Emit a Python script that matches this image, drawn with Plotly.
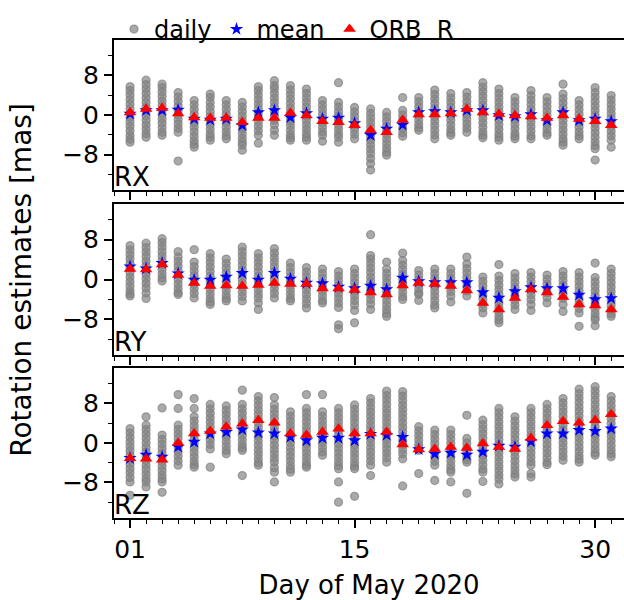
import plotly.graph_objects as go

DAYS = list(range(1, 32))
TICK_DAYS = [1, 15, 30]
TICK_DAY_TEXT = ["01", "15", "30"]
Y_TICKS = [-8, 0, 8]
Y_TICK_TEXT = ["\u22128", "0", "8"]
PANELS = ["RX", "RY", "RZ"]
LEGEND_NAMES = ["daily", "mean", "ORB\u00a0\u00a0R"]

RX_DAILY = [
    [5.7, 4.9, 4.0, 3.1, 2.2, 1.3, 0.4, -0.5, -1.4, -2.3, -3.2, -4.1, -4.9, -5.5],
    [7.0, 6.1, 5.2, 4.3, 3.4, 2.5, 1.6, 0.7, -0.2, -1.1, -2.0, -2.9, -3.8, -4.5],
    [6.2, 5.5, 4.6, 3.7, 2.8, 1.9, 1.0, 0.1, -0.8, -1.7, -2.6, -3.5, -4.1],
    [4.5, 3.6, 2.7, 1.8, 0.9, 0.0, -0.9, -1.8, -2.7, -3.5, -9.3],
    [2.9, 2.0, 1.1, 0.2, -0.7, -1.6, -2.5, -3.4, -4.3, -5.2, -5.9, -6.5],
    [4.2, 3.5, 2.5, 1.6, 0.7, -0.2, -1.1, -2.0, -2.9, -3.8, -4.5, -5.1],
    [2.9, 2.0, 1.1, 0.2, -0.7, -1.6, -2.5, -3.4, -4.2, -4.8],
    [2.5, 1.6, 0.7, -0.2, -1.1, -2.0, -2.9, -3.8, -4.7, -5.5, -6.1, -7.1],
    [5.7, 4.9, 4.0, 3.1, 2.2, 1.3, 0.4, -0.5, -1.4, -2.3, -3.2, -4.1, -5.7],
    [6.9, 5.9, 5.2, 4.3, 3.4, 2.5, 1.6, 0.7, -0.2, -1.1, -2.0, -3.1, -4.1],
    [5.9, 5.0, 4.1, 3.2, 2.3, 1.4, 0.5, -0.4, -1.3, -2.2, -3.1, -4.0, -4.6, -5.1],
    [5.2, 4.3, 3.4, 2.5, 1.6, 0.7, -0.2, -1.1, -2.0, -2.9, -3.8, -4.5, -5.1],
    [2.9, 2.0, 1.1, 0.2, -0.7, -1.6, -2.5, -3.4, -4.1, -5.3],
    [6.5, 2.5, 1.6, 0.7, -0.2, -1.1, -2.0, -2.9, -3.8, -4.5, -5.5],
    [1.5, 0.6, -0.3, -1.2, -2.1, -3.0, -3.9, -4.8],
    [1.2, 0.3, -0.6, -1.5, -2.4, -3.3, -4.2, -5.1, -6.0, -6.9, -7.8, -8.8, -9.8, -11.1],
    [0.5, -0.4, -1.3, -2.2, -3.1, -4.0, -4.9, -5.8, -6.7, -7.5, -8.1],
    [3.5, 0.9, 0.0, -0.9, -1.8, -2.7, -3.6, -4.3],
    [3.5, 2.6, 1.7, 0.8, -0.1, -1.0, -1.9, -2.6, -3.1],
    [5.0, 4.1, 3.2, 2.3, 1.4, 0.5, -0.4, -1.3, -2.2, -3.1, -4.0, -4.8],
    [4.3, 3.4, 2.5, 1.6, 0.7, -0.2, -1.1, -2.0, -2.9, -3.6, -4.1],
    [4.5, 3.6, 2.7, 1.8, 0.9, 0.0, -0.9, -1.8, -2.7, -3.5],
    [6.5, 5.6, 4.7, 3.8, 2.9, 2.0, 1.1, 0.2, -0.7, -1.6, -2.5, -3.4, -4.1, -4.6],
    [5.2, 4.3, 3.4, 2.5, 1.6, 0.7, -0.2, -1.1, -2.0, -2.9, -3.8, -4.5, -5.1],
    [3.5, 2.6, 1.7, 0.8, -0.1, -1.0, -1.9, -2.8, -3.7, -4.3, -4.8],
    [4.9, 3.9, 3.0, 2.1, 1.2, 0.3, -0.6, -1.5, -2.4, -3.3, -4.2, -4.8],
    [3.5, 2.6, 1.7, 0.8, -0.1, -1.0, -1.9, -2.8, -3.6, -4.1],
    [6.2, 4.2, 3.3, 2.4, 1.5, 0.6, -0.3, -1.2, -2.1, -3.0, -3.9, -4.8, -5.5, -6.1],
    [2.9, 2.0, 1.1, 0.2, -0.7, -1.6, -2.5, -3.4, -4.2, -4.8],
    [5.5, 4.5, 3.6, 2.7, 1.8, 0.9, 0.0, -0.9, -1.8, -2.7, -3.6, -4.5, -5.4, -6.2, -6.8, -9.1],
    [3.9, 3.0, 2.1, 1.2, 0.3, -0.6, -1.5, -2.4, -3.3, -4.2, -5.1, -6.5],
]
RY_DAILY = [
    [6.8, 5.9, 5.0, 4.1, 3.2, 2.3, 1.4, 0.5, -0.4, -1.3, -2.2, -2.9, -3.3],
    [7.3, 6.4, 5.5, 4.6, 3.7, 2.8, 1.9, 1.0, 0.1, -0.8, -1.7, -2.7, -3.8],
    [8.2, 7.4, 6.5, 5.6, 4.7, 3.8, 2.9, 2.0, 1.1, 0.3, -0.3],
    [5.6, 4.5, 3.6, 2.7, 1.8, 0.9, 0.0, -0.9, -1.8, -2.6, -3.0],
    [6.0, 3.5, 2.6, 1.7, 0.8, -0.1, -1.0, -1.9, -2.8, -3.7],
    [5.2, 4.3, 3.4, 2.5, 1.6, 0.7, -0.2, -1.1, -2.0, -2.9, -3.8, -4.5, -5.0],
    [4.1, 3.2, 2.3, 1.4, 0.5, -0.4, -1.3, -2.2, -3.1, -3.8, -4.3],
    [6.5, 5.6, 4.7, 3.8, 2.9, 2.0, 1.1, 0.2, -0.7, -1.6, -2.5, -3.4, -4.3],
    [5.2, 4.3, 3.4, 2.5, 1.6, 0.7, -0.2, -1.1, -2.0, -2.9, -3.7, -4.7, -6.0],
    [6.2, 5.3, 4.4, 3.5, 2.6, 1.7, 0.8, -0.1, -1.0, -1.9, -2.8, -3.7],
    [3.3, 2.4, 1.5, 0.6, -0.3, -1.2, -2.1, -3.0, -3.8, -4.3],
    [2.4, 1.5, 0.6, -0.3, -1.2, -2.1, -3.0, -3.9, -4.8, -5.7],
    [2.1, 1.2, 0.3, -0.6, -1.5, -2.4, -3.3, -4.2, -4.7],
    [1.6, 0.7, -0.2, -1.1, -2.0, -2.9, -3.8, -4.7, -5.6, -9.1, -9.9],
    [2.1, 1.2, 0.3, -0.6, -1.5, -2.4, -3.3, -4.2, -5.1, -6.2, -8.7],
    [9.0, 4.8, 4.1, 3.2, 2.3, 1.4, 0.5, -0.4, -1.3, -2.2, -3.1, -4.0, -4.9, -6.0],
    [3.5, 2.1, 1.2, 0.3, -0.6, -1.5, -2.4, -3.3, -4.2, -5.1, -6.0, -6.8, -7.4],
    [5.3, 3.8, 2.9, 2.0, 1.1, 0.2, -0.7, -1.6, -2.5, -3.4, -4.0],
    [1.8, 0.9, 0.0, -0.9, -1.8, -2.6, -3.0, -4.2],
    [2.1, 1.2, 0.3, -0.6, -1.5, -2.4, -3.3, -4.2, -5.1, -5.7],
    [2.1, 1.2, 0.3, -0.6, -1.5, -2.4, -3.3, -4.5],
    [4.5, 3.1, 2.2, 1.3, 0.4, -0.5, -1.4, -2.3, -3.3],
    [0.5, -0.4, -1.3, -2.2, -3.1, -4.0, -4.9, -5.7, -6.7],
    [3.0, 0.7, -0.2, -1.1, -2.0, -2.9, -3.8, -4.7, -5.6, -6.5, -7.4, -8.1, -8.7],
    [1.2, 0.3, -0.6, -1.5, -2.4, -3.3, -4.2, -5.1, -6.0],
    [1.4, 0.5, -0.4, -1.3, -2.2, -3.1, -4.0, -5.0, -6.2],
    [0.9, 0.0, -0.9, -1.8, -2.7, -3.6, -4.7],
    [1.6, 0.7, -0.2, -1.1, -2.0, -2.9, -3.8, -5.0, -6.4],
    [1.4, 0.5, -0.4, -1.3, -2.2, -3.1, -4.0, -4.9, -5.8, -6.7, -9.4],
    [3.3, 0.4, -0.5, -1.4, -2.3, -3.2, -4.1, -5.0, -5.9, -6.8, -7.6, -8.1, -9.3],
    [2.1, 1.2, 0.3, -0.6, -1.5, -2.4, -3.3, -4.2, -5.1, -6.0, -6.9, -7.4],
]
RZ_DAILY = [
    [2.9, 2.0, 1.1, 0.2, -0.7, -1.6, -2.5, -3.4, -4.3, -5.2, -6.1, -7.0, -7.9, -10.6],
    [5.3, 3.6, 2.7, 1.8, 0.9, 0.0, -0.9, -1.8, -2.7, -3.6, -4.5, -5.4, -6.3, -7.2, -7.9, -8.9],
    [7.1, 1.6, 0.7, -0.2, -1.1, -2.0, -2.9, -3.8, -4.7, -5.6, -6.5, -7.3, -7.9, -10.0],
    [9.8, 7.0, 3.6, 2.7, 1.8, 0.9, 0.0, -0.9, -1.8, -2.7, -3.6, -4.5],
    [9.0, 7.0, 5.3, 4.4, 3.5, 2.6, 1.7, 0.8, -0.1, -1.0, -1.9, -2.8, -3.7, -4.4, -4.9],
    [7.8, 6.9, 6.0, 5.1, 4.2, 3.3, 2.4, 1.5, 0.6, -0.3, -1.2, -4.9],
    [7.5, 6.6, 5.7, 4.8, 3.9, 3.0, 2.1, 1.2, 0.3, -0.6, -1.5, -2.2],
    [10.7, 7.8, 6.9, 6.0, 5.1, 4.2, 3.3, 2.4, 1.5, 0.6, -0.3, -1.0, -1.5, -6.6],
    [9.4, 8.5, 7.6, 6.7, 5.8, 4.9, 4.0, 3.1, 2.2, 1.3, 0.4, -0.5, -1.4, -2.3, -3.2, -4.0, -4.5],
    [9.2, 7.7, 6.8, 5.9, 5.0, 4.1, 3.2, 2.3, 1.4, 0.5, -0.4, -1.3, -2.2, -3.1, -3.9, -5.0, -5.9, -7.9],
    [6.3, 5.4, 4.5, 3.6, 2.7, 1.8, 0.9, 0.0, -0.9, -1.8, -2.7, -3.6, -4.5, -5.3, -5.9],
    [9.8, 7.0, 6.1, 5.2, 4.3, 3.4, 2.5, 1.6, 0.7, -0.2, -1.1, -2.0, -2.9, -3.8, -4.5, -4.9],
    [9.8, 6.3, 5.4, 4.5, 3.6, 2.7, 1.8, 0.9, 0.0, -0.9, -1.8, -2.5],
    [7.0, 6.1, 5.2, 4.3, 3.4, 2.5, 1.6, 0.7, -0.2, -1.1, -2.0, -2.9, -3.8, -4.6, -5.2, -7.9, -12.0],
    [7.7, 6.8, 5.9, 5.0, 4.1, 3.2, 2.3, 1.4, 0.5, -0.4, -1.3, -2.2, -3.1, -4.0, -4.7, -5.2, -10.8],
    [9.0, 8.1, 7.2, 6.3, 5.4, 4.5, 3.6, 2.7, 1.8, 0.9, 0.0, -0.9, -1.8, -2.7, -3.6, -4.5, -6.6],
    [10.5, 9.6, 8.7, 7.8, 6.9, 6.0, 5.1, 4.2, 3.3, 2.4, 1.5, 0.6, -0.3, -1.2, -2.1, -3.0, -3.9],
    [10.4, 9.5, 8.6, 7.7, 6.8, 5.9, 5.0, 4.1, 3.2, 2.3, 1.4, 0.5, -0.4, -1.3, -2.2, -3.2, -8.7],
    [3.3, 2.4, 1.5, 0.6, -0.3, -1.0, -1.5, -6.2],
    [2.6, 1.7, 0.8, -0.1, -1.0, -1.9, -2.8, -3.7, -4.5, -7.6],
    [2.6, 1.7, 0.8, -0.1, -1.0, -1.9, -2.8, -3.7, -4.6, -5.4, -5.9, -7.9],
    [5.6, 0.9, 0.0, -0.9, -1.8, -2.7, -3.4, -3.9, -10.2],
    [4.6, 3.7, 2.8, 1.9, 1.0, 0.1, -0.8, -1.7, -2.6, -3.5, -4.4, -5.3, -5.9, -7.8],
    [7.0, 6.1, 5.2, 4.3, 3.4, 2.5, 1.6, 0.7, -0.2, -1.1, -2.0, -2.9, -3.8, -4.7, -5.6, -6.5, -7.3, -8.3],
    [5.3, 4.4, 3.5, 2.6, 1.7, 0.8, -0.1, -1.0, -1.9, -2.8, -3.7, -4.6, -5.5, -6.3, -6.9],
    [7.0, 6.1, 5.2, 4.3, 3.4, 2.5, 1.6, 0.7, -0.2, -1.1, -2.0, -2.9, -3.8, -4.5, -6.2, -6.9],
    [7.8, 6.9, 6.0, 5.1, 4.2, 3.3, 2.4, 1.5, 0.6, -0.3, -1.2, -2.1, -3.0, -3.9, -4.4],
    [9.0, 8.1, 7.2, 6.3, 5.4, 4.5, 3.6, 2.7, 1.8, 0.9, 0.0, -0.9, -1.8, -2.7, -3.5],
    [10.9, 10.0, 9.1, 8.2, 7.3, 6.4, 5.5, 4.6, 3.7, 2.8, 1.9, 1.0, 0.1, -0.8, -1.7, -2.6, -3.3, -3.9],
    [11.4, 10.5, 9.6, 8.7, 7.8, 6.9, 6.0, 5.1, 4.2, 3.3, 2.4, 1.5, 0.6, -0.3, -1.2, -2.0, -2.5],
    [9.4, 8.5, 7.6, 6.7, 5.8, 4.9, 4.0, 3.1, 2.2, 1.3, 0.4, -0.5, -1.4, -2.2, -2.8],
]

RX_MEAN = [0.2, 0.9, 0.9, 1.0, -0.8, -1.0, -0.8, -2.1, 0.5, 0.9, -0.5, 0.3, -0.8, -0.6, -1.7,
           -4.1, -2.8, -2.0, 0.5, 0.7, 0.5, 0.9, 0.9, -0.1, -0.3, 0.1, -1.1, 0.5, -1.1, -0.8, -1.3]
RX_ORB = [0.5, 1.2, 1.4, 0.3, -0.5, -0.6, -0.6, -1.5, -0.6, -0.6, 0.4, -0.1, -1.3, -1.5, -2.1,
          -3.1, -3.5, -1.0, 0.1, 0.1, 0.3, 1.2, 0.5, 0.2, -0.1, -0.3, -0.6, -0.1, -0.8, -1.3, -2.1]
RY_MEAN = [2.6, 2.2, 3.3, 1.2, -0.1, -0.1, 0.5, 1.3, -0.1, 1.3, 0.1, -0.7, -0.8, -1.5, -1.8,
           -1.3, -2.0, 0.3, -0.4, -0.6, -0.6, -0.6, -2.6, -3.7, -2.4, -1.6, -1.8, -1.8, -3.1, -4.0, -3.8]
RY_ORB = [2.1, 2.0, 3.0, 0.9, -0.7, -1.3, -1.2, -1.3, -1.1, -0.7, -0.9, -0.9, -1.8, -1.8, -2.1,
          -2.6, -3.0, -1.2, -0.7, -0.9, -1.3, -2.2, -4.7, -6.0, -3.7, -2.0, -2.6, -3.5, -5.0, -5.2, -6.0]
RZ_MEAN = [-3.1, -2.4, -2.8, -0.8, 0.2, 1.9, 2.2, 2.7, 2.1, 1.9, 1.2, 0.5, 1.0, 1.0, 0.5,
           1.8, 1.6, 1.2, -1.3, -2.2, -2.0, -2.4, -1.8, -0.6, -0.8, 0.3, 1.9, 1.9, 2.6, 2.4, 2.9]
RZ_ORB = [-3.1, -3.2, -3.4, 0.0, 1.9, 2.4, 3.3, 3.9, 4.6, 4.1, 1.9, 1.6, 2.2, 2.9, 1.9,
          1.9, 2.2, -0.3, -1.3, -1.2, -0.8, -1.0, -0.1, -0.8, -1.2, 1.0, 3.6, 4.4, 4.1, 4.6, 5.8]

DAILY = [RX_DAILY, RY_DAILY, RZ_DAILY]
MEANS = [RX_MEAN, RY_MEAN, RZ_MEAN]
ORBS = [RX_ORB, RY_ORB, RZ_ORB]

FONT = "DejaVu Sans"
GREY_FILL = "rgba(128,128,128,0.68)"
GREY_LINE = "rgba(128,128,128,0.68)"

fig = go.Figure()
DOMAINS = [[0.6855, 1.0], [0.3406, 0.6562], [0.0, 0.3129]]

for i in range(3):
    sfx = "" if i == 0 else str(i + 1)
    xs, ys = [], []
    for d, vals in zip(DAYS, DAILY[i]):
        xs += [d] * len(vals)
        ys += vals
    fig.add_trace(go.Scatter(
        x=xs, y=ys, mode="markers", name=LEGEND_NAMES[0], legendgroup="daily",
        showlegend=(i == 0), xaxis="x" + sfx, yaxis="y" + sfx,
        marker=dict(symbol="circle", size=8, color=GREY_FILL,
                    line=dict(color=GREY_LINE, width=1.3)),
    ))
    fig.add_trace(go.Scatter(
        x=DAYS, y=MEANS[i], mode="markers", name=LEGEND_NAMES[1], legendgroup="mean",
        showlegend=(i == 0), xaxis="x" + sfx, yaxis="y" + sfx,
        marker=dict(symbol="star", size=10, color="#0000ff", line=dict(width=0)),
    ))
    fig.add_trace(go.Scatter(
        x=DAYS, y=ORBS[i], mode="markers", name=LEGEND_NAMES[2], legendgroup="orb",
        showlegend=(i == 0), xaxis="x" + sfx, yaxis="y" + sfx,
        marker=dict(symbol="triangle-up", size=11, color="#ff0000", line=dict(width=0)),
    ))

layout = dict(
    width=624, height=600,
    margin=dict(l=114, r=0, t=40, b=82),
    paper_bgcolor="white", plot_bgcolor="white",
    font=dict(family=FONT, color="black", size=24),
    showlegend=True,
    legend=dict(orientation="h", x=0.0, xanchor="left", y=0.975, yanchor="bottom",
                font=dict(size=24, family=FONT), bgcolor="rgba(0,0,0,0)",
                borderwidth=0, itemwidth=30, tracegroupgap=0),
)

for i in range(3):
    sfx = "" if i == 0 else str(i + 1)
    layout["xaxis" + sfx] = dict(
        domain=[0, 1], anchor="y" + sfx, range=[0.0, 31.8],
        showline=True, linecolor="black", linewidth=2, mirror=True,
        ticks="outside", ticklen=8, tickwidth=1.5, tickcolor="black",
        tickvals=TICK_DAYS, ticktext=TICK_DAY_TEXT,
        showticklabels=(i == 2), tickfont=dict(size=25, family=FONT),
        minor=dict(tick0=1, dtick=1, ticks="outside", ticklen=4, tickwidth=1, tickcolor="black"),
        showgrid=False, zeroline=False,
    )
    if i > 0:
        layout["xaxis" + sfx]["matches"] = "x"
    layout["yaxis" + sfx] = dict(
        domain=DOMAINS[i], anchor="x" + sfx, range=[-15.2, 15.1],
        showline=True, linecolor="black", linewidth=2, mirror=False,
        ticks="outside", ticklen=8, tickwidth=1.5, tickcolor="black",
        tickvals=Y_TICKS, ticktext=Y_TICK_TEXT, tickfont=dict(size=25, family=FONT),
        minor=dict(tick0=0, dtick=4, ticks="outside", ticklen=4, tickwidth=1, tickcolor="black"),
        showgrid=False, zeroline=False,
    )

layout["xaxis3"]["title"] = dict(text="Day of May 2020", font=dict(size=26, family=FONT), standoff=15)

annotations = []
for i, name in enumerate(PANELS):
    sfx = "" if i == 0 else str(i + 1)
    annotations.append(dict(
        text=name, xref="x" + sfx + " domain", yref="y" + sfx + " domain",
        x=0, y=0, xanchor="left", yanchor="bottom", showarrow=False,
        font=dict(size=26, family=FONT), xshift=-2, yshift=-4,
    ))
annotations.append(dict(
    text="Rotation estimates [mas]", xref="paper", yref="y2 domain",
    x=0, y=0.5, xanchor="center", yanchor="middle", xshift=-92, textangle=-90,
    showarrow=False, font=dict(size=28, family=FONT),
))
layout["annotations"] = annotations

fig.update_layout(**layout)
fig.write_html("out.html")
